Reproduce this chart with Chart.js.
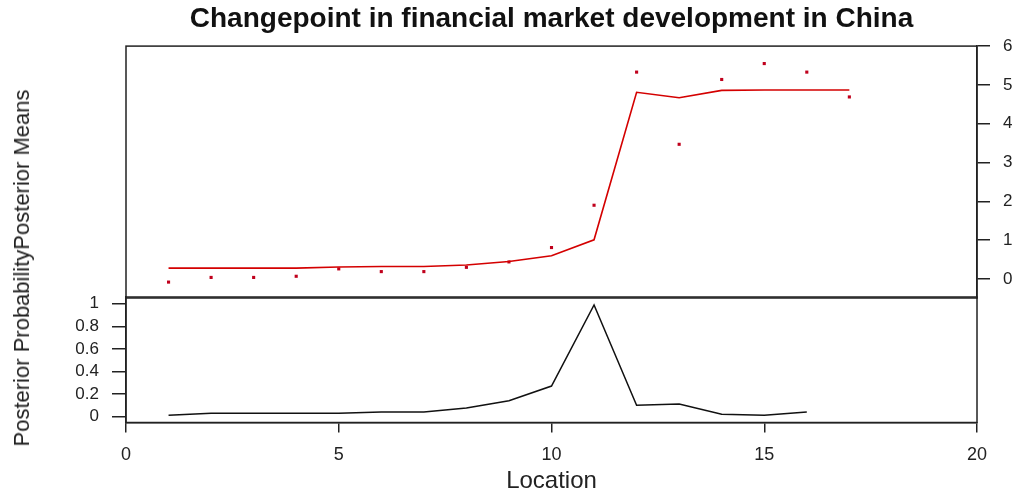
<!DOCTYPE html>
<html>
<head>
<meta charset="utf-8">
<script src="https://cdn.jsdelivr.net/npm/chart.js@4.4.1/dist/chart.umd.min.js"></script>
<style>
  body { margin: 0; background: #fff; }
  #wrap { position: relative; width: 1015px; height: 492px; overflow: hidden; }
  #probCanvas, #meansCanvas { position: absolute; left: 0; top: 0; }
  #ylab {
    position: absolute; left: 22px; top: 268px;
    transform: translate(-50%, -50%) rotate(-90deg);
    font: 22px Arial, "Liberation Sans", sans-serif;
    white-space: nowrap; color: #222;
  }
</style>
</head>
<body>
<div id="wrap">
  <canvas id="probCanvas" width="1015" height="496"></canvas>
  <canvas id="meansCanvas" width="1015" height="302"></canvas>
  <div id="ylab">Posterior ProbabilityPosterior Means</div>
</div>
<script>
const chartTitle = 'Changepoint in financial market development in China';

// top panel: observed values and posterior means
const locations = [1, 2, 3, 4, 5, 6, 7, 8, 9, 10, 11, 12, 13, 14, 15, 16, 17];
const observed = [-0.08, 0.04, 0.04, 0.07, 0.26, 0.19, 0.19, 0.30, 0.44, 0.81, 1.90, 5.33, 3.47, 5.14, 5.55, 5.33, 4.69];
const postMeans = [0.28, 0.28, 0.28, 0.28, 0.31, 0.32, 0.32, 0.36, 0.45, 0.60, 1.01, 4.81, 4.67, 4.86, 4.87, 4.87, 4.87];

// bottom panel: posterior probability of a change
const probLocations = [1, 2, 3, 4, 5, 6, 7, 8, 9, 10, 11, 12, 13, 14, 15, 16];
const postProb = [0.012, 0.03, 0.03, 0.03, 0.03, 0.04, 0.04, 0.075, 0.14, 0.27, 0.99, 0.10, 0.11, 0.02, 0.012, 0.04];

const xTicks = [0, 5, 10, 15, 20];
const meanTicks = [0, 1, 2, 3, 4, 5, 6];
const probTicks = [0, 0.2, 0.4, 0.6, 0.8, 1];

const font = 'Arial, "Liberation Sans", sans-serif';
const ink = '#222';

// R style box round the plot region
const frame = {
  id: 'frame',
  afterDraw(chart) {
    const { ctx, chartArea: a } = chart;
    ctx.save();
    ctx.strokeStyle = ink;
    ctx.lineWidth = 1.5;
    ctx.strokeRect(a.left, a.top, a.right - a.left, a.bottom - a.top);
    ctx.restore();
  }
};

new Chart(document.getElementById('meansCanvas'), {
  type: 'line',
  data: {
    datasets: [
      {
        label: 'Posterior Means',
        data: locations.map((x, i) => ({ x: x, y: postMeans[i] })),
        borderColor: '#d40000',
        borderWidth: 1.6,
        pointRadius: 0,
        tension: 0
      },
      {
        label: 'Data',
        data: locations.map((x, i) => ({ x: x, y: observed[i] })),
        showLine: false,
        pointStyle: 'rect',
        pointRadius: 2.2,
        borderWidth: 0,
        backgroundColor: '#c0001c'
      }
    ]
  },
  options: {
    responsive: false,
    animation: false,
    devicePixelRatio: 1,
    layout: { padding: { left: 126, bottom: 1 } },
    plugins: {
      legend: { display: false },
      tooltip: { enabled: false },
      title: {
        display: true,
        text: chartTitle,
        fullSize: false,
        color: '#111',
        font: { family: font, size: 28, weight: 'bold' },
        padding: { top: 2, bottom: 10.5 }
      }
    },
    scales: {
      x: { type: 'linear', min: 0, max: 20, display: false },
      y: {
        position: 'right',
        min: -0.49,
        max: 6,
        afterBuildTicks: s => { s.ticks = meanTicks.map(v => ({ value: v })); },
        afterFit: s => { s.width = 38; s.paddingTop = 0; s.paddingBottom = 0; },
        grid: { drawOnChartArea: false, tickLength: 13, color: ink, lineWidth: 1.5 },
        border: { color: ink, width: 1.5 },
        ticks: { color: ink, padding: 13, font: { family: font, size: 17 } }
      }
    }
  },
  plugins: [frame]
});

new Chart(document.getElementById('probCanvas'), {
  type: 'line',
  data: {
    datasets: [{
      label: 'Posterior Probability',
      data: probLocations.map((x, i) => ({ x: x, y: postProb[i] })),
      borderColor: '#111',
      borderWidth: 1.5,
      pointRadius: 0,
      tension: 0
    }]
  },
  options: {
    responsive: false,
    animation: false,
    devicePixelRatio: 1,
    layout: { padding: { top: 297, right: 38 } },
    plugins: {
      legend: { display: false },
      tooltip: { enabled: false }
    },
    scales: {
      x: {
        type: 'linear',
        min: 0,
        max: 20,
        afterBuildTicks: s => { s.ticks = xTicks.map(v => ({ value: v })); },
        afterFit: s => { s.height = 73.5; },
        grid: { drawOnChartArea: false, tickLength: 10, color: ink, lineWidth: 1.5 },
        border: { color: ink, width: 1.5 },
        ticks: { color: ink, padding: 12, maxRotation: 0, font: { family: font, size: 18 } },
        title: {
          display: true,
          text: 'Location',
          color: ink,
          font: { family: font, size: 24 },
          padding: { top: 0, bottom: 0 }
        }
      },
      y: {
        position: 'left',
        min: -0.053,
        max: 1.06,
        afterBuildTicks: s => { s.ticks = probTicks.map(v => ({ value: v })); },
        afterFit: s => { s.width = 126; },
        grid: { drawOnChartArea: false, tickLength: 14, color: ink, lineWidth: 1.5 },
        border: { color: ink, width: 1.5 },
        ticks: { color: ink, padding: 13, font: { family: font, size: 17 }, callback: v => String(v) }
      }
    }
  },
  plugins: [frame]
});
</script>
</body>
</html>
